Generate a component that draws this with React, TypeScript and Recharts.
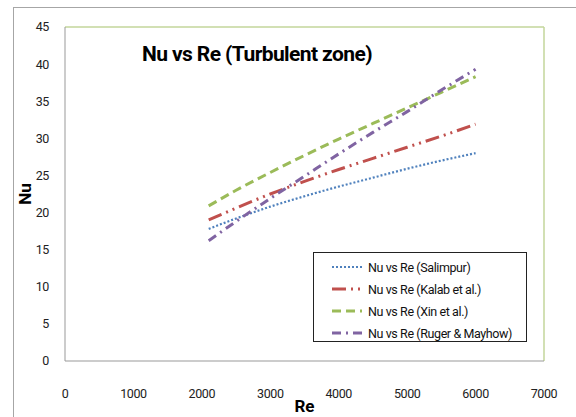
import { LineChart, Line, XAxis, YAxis, ReferenceLine } from "recharts";

const reValues = [2100, 2500, 3000, 3500, 4000, 4500, 5000, 5500, 6000];
const salimpur = [17.8, 19.2, 20.8, 22.2, 23.5, 24.7, 25.9, 27.0, 28.0];
const kalab = [19.0, 20.6, 22.5, 24.2, 25.8, 27.3, 28.8, 30.3, 31.9];
const xin = [20.9, 23.0, 25.4, 27.7, 29.9, 32.0, 34.1, 36.2, 38.3];
const ruger = [16.2, 18.8, 21.9, 24.9, 27.9, 30.8, 33.6, 36.5, 39.3];

const xTicks = [0, 1000, 2000, 3000, 4000, 5000, 6000, 7000];
const yTicks = [0, 5, 10, 15, 20, 25, 30, 35, 40, 45];

const data = reValues.map((re, i) => ({
  re,
  salimpur: salimpur[i],
  kalab: kalab[i],
  xin: xin[i],
  ruger: ruger[i],
}));

const series = [
  { key: "salimpur", name: "Nu vs Re (Salimpur)", color: "#4f81bd", dash: "2 2", width: 2.2 },
  { key: "kalab", name: "Nu vs Re (Kalab et al.)", color: "#c0504d", dash: "14 5 2 5 2 5", width: 3 },
  { key: "xin", name: "Nu vs Re (Xin et al.)", color: "#9bbb59", dash: "9 5", width: 3 },
  { key: "ruger", name: "Nu vs Re (Ruger & Mayhow)", color: "#8064a2", dash: "9 5 2 5", width: 3 },
];

const font = "Roboto, 'Liberation Sans', sans-serif";

// legend drawn outside the chart so it does not shrink the plot area
const LegendBox = () => (
  <div
    style={{
      position: "absolute",
      left: 313,
      top: 252,
      width: 214,
      height: 90,
      border: "1px solid #222",
      background: "#fff",
      padding: "3px 0 0 18px",
      boxSizing: "border-box",
      fontFamily: font,
      fontSize: 12.5,
      letterSpacing: -0.4,
      color: "#111",
    }}
  >
    {series.map((s) => (
      <div key={s.key} style={{ display: "flex", alignItems: "center", height: 22 }}>
        <svg width={30} height={8} style={{ marginRight: 6 }}>
          <line
            x1={0}
            y1={4}
            x2={30}
            y2={4}
            stroke={s.color}
            strokeWidth={s.width}
            strokeDasharray={s.dash}
          />
        </svg>
        <span>{s.name}</span>
      </div>
    ))}
  </div>
);

const App = () => {
  return (
    <div style={{ position: "absolute", left: 0, top: 0, width: 576, height: 417, background: "#fff", overflow: "hidden" }}>
      <div
        style={{
          position: "absolute",
          left: 13,
          top: 7,
          width: 600,
          height: 450,
          borderTop: "1px solid #a6a6a6",
          borderLeft: "1px solid #a6a6a6",
        }}
      />
      <LineChart
        width={576}
        height={417}
        data={data}
        margin={{ top: 27, right: 32, bottom: 0, left: 0 }}
      >
        <XAxis
          dataKey="re"
          type="number"
          domain={[0, 7000]}
          ticks={xTicks}
          tickLine={false}
          axisLine={{ stroke: "#999" }}
          tick={{ fill: "#222", fontSize: 12.5, fontFamily: font, letterSpacing: -0.4 }}
          tickMargin={22}
          height={56}
          label={{ value: "Re", position: "center", dy: 17, style: { fontSize: 17, fontWeight: "bold", fill: "#000", fontFamily: font } }}
        />
        <YAxis
          type="number"
          domain={[0, 45]}
          ticks={yTicks}
          tickLine={false}
          axisLine={{ stroke: "#999" }}
          tick={{ fill: "#222", fontSize: 12.5, fontFamily: font, letterSpacing: -0.4 }}
          tickMargin={10}
          width={65}
          label={{ value: "Nu", angle: -90, position: "center", dx: -8, style: { fontSize: 17, fontWeight: "bold", fill: "#000", fontFamily: font } }}
        />
        <ReferenceLine y={45} stroke="#c3d69b" strokeWidth={1.5} />
        <ReferenceLine x={7000} stroke="#c3d69b" strokeWidth={1.5} />
        {series.map((s) => (
          <Line
            key={s.key}
            dataKey={s.key}
            name={s.name}
            type="monotone"
            stroke={s.color}
            strokeWidth={s.width}
            strokeDasharray={s.dash}
            dot={false}
            isAnimationActive={false}
          />
        ))}
      </LineChart>
      <LegendBox />
      <div
        style={{
          position: "absolute",
          left: 0,
          top: 42,
          width: 514,
          textAlign: "center",
          fontFamily: font,
          fontWeight: "bold",
          fontSize: 21,
          letterSpacing: -0.6,
          color: "#000",
        }}
      >
        Nu vs Re (Turbulent zone)
      </div>
    </div>
  );
};

export default App;
